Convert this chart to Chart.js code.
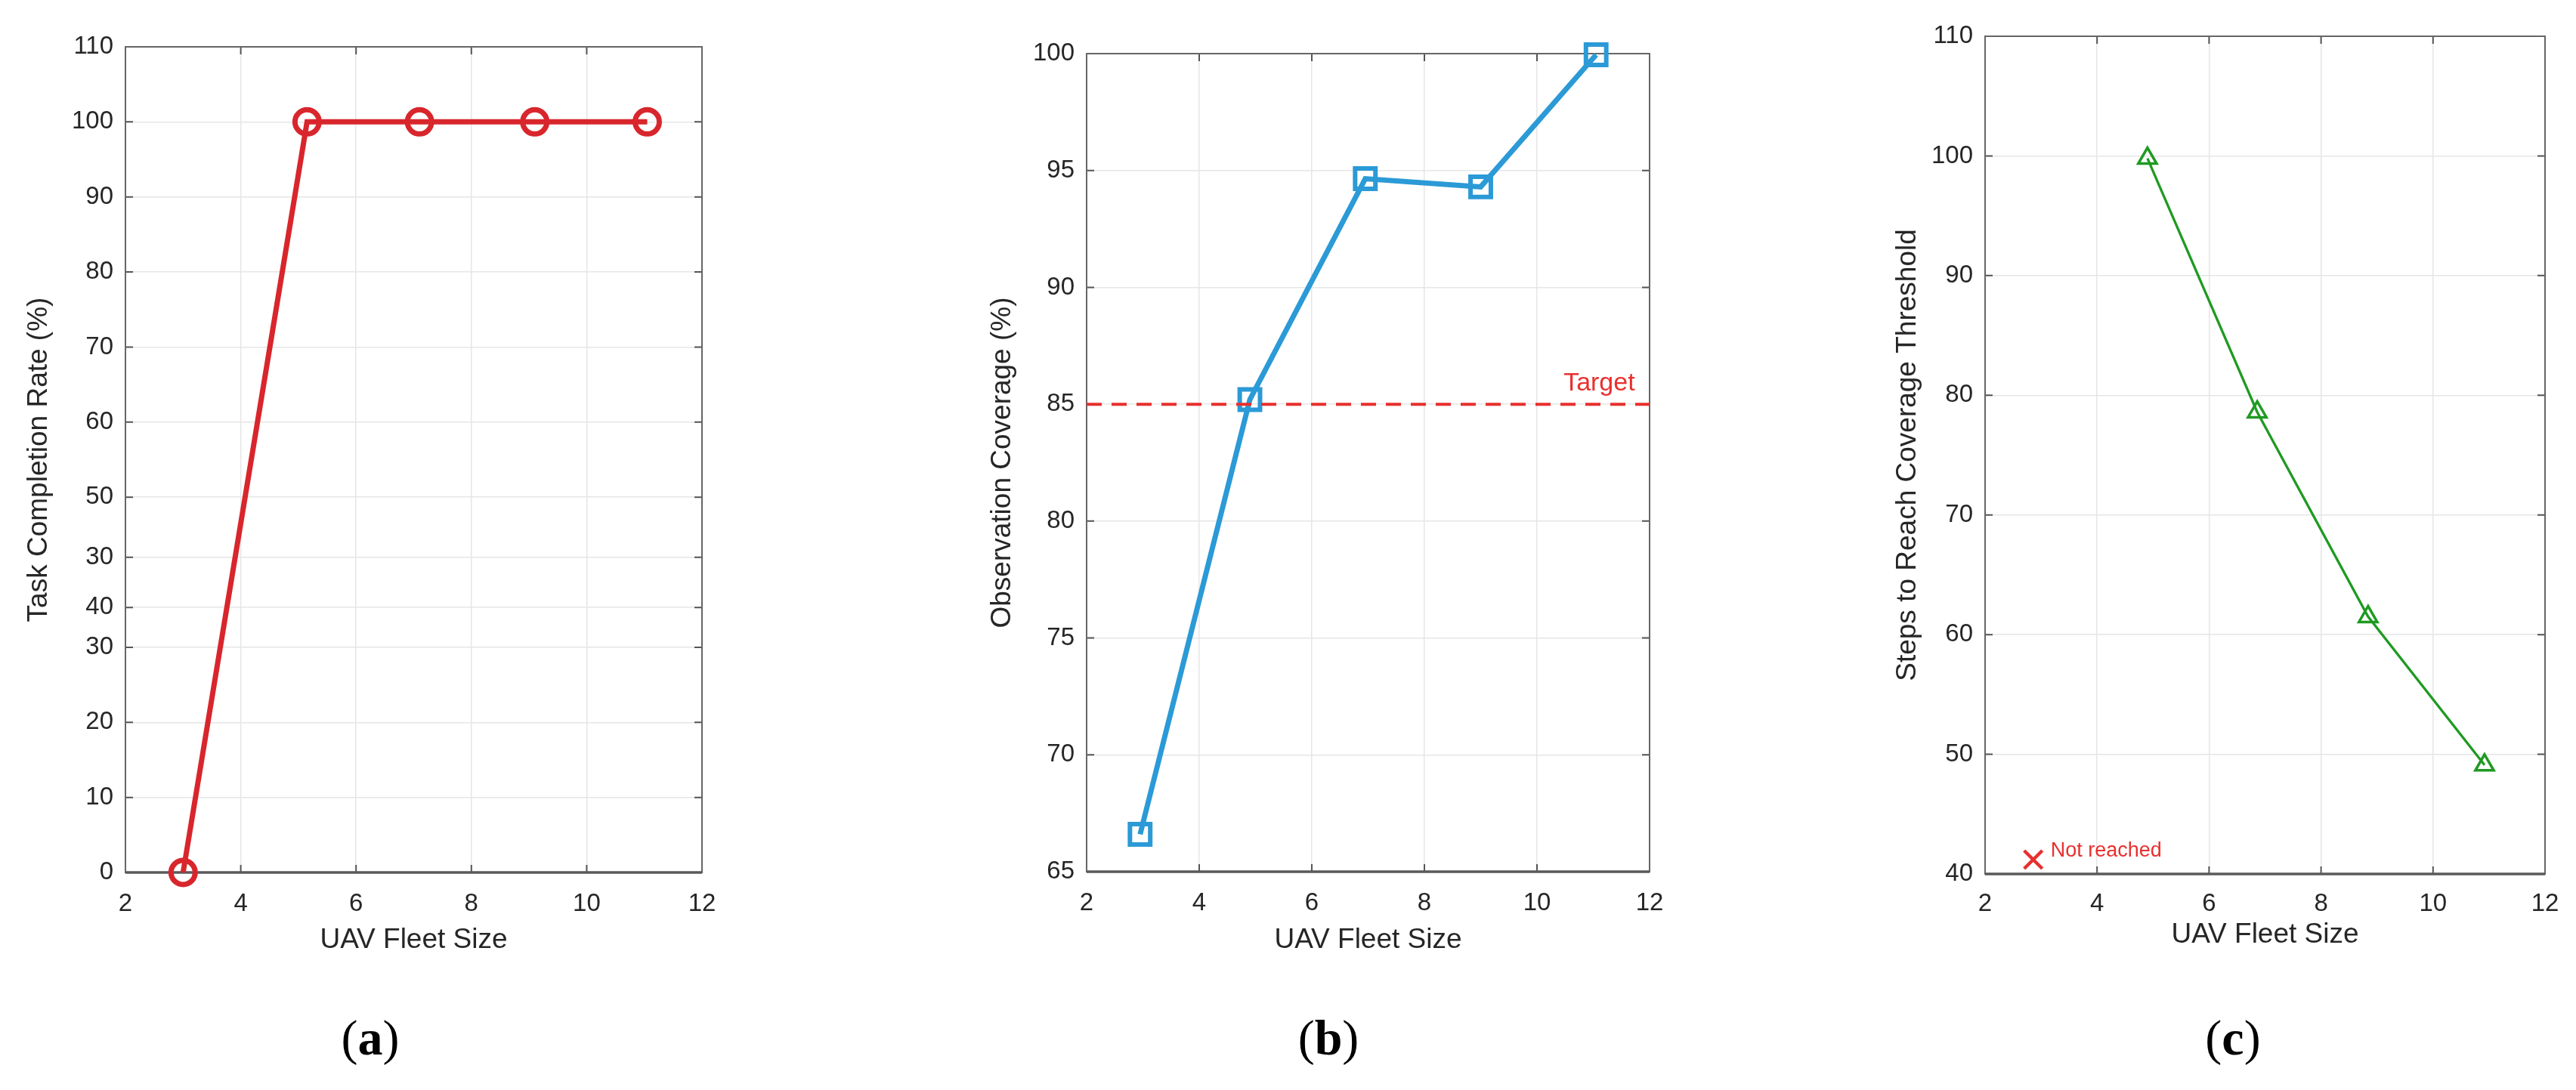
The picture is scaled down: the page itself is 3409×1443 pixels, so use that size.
<!DOCTYPE html>
<html><head><meta charset="utf-8">
<script src="https://cdn.jsdelivr.net/npm/chart.js@4.4.0/dist/chart.umd.min.js"></script>
<style>
html,body{margin:0;padding:0;background:#fff;width:3409px;height:1443px;overflow:hidden;}
canvas{position:absolute;top:0;}
.sub{position:absolute;font-family:'Liberation Serif','Times New Roman',serif;font-size:66px;line-height:1;transform:translate(-50%,-50%);top:1374px;color:#000;}
</style></head><body>
<canvas id="ca" width="1100" height="1300" style="left:0px;width:1100px;height:1300px"></canvas>
<canvas id="cb" width="1150" height="1300" style="left:1150px;width:1150px;height:1300px"></canvas>
<canvas id="cc" width="1109" height="1300" style="left:2300px;width:1109px;height:1300px"></canvas>
<div class="sub" style="left:490px">(<b>a</b>)</div>
<div class="sub" style="left:1758px">(<b>b</b>)</div>
<div class="sub" style="left:2955px">(<b>c</b>)</div>
<script>
// ---- data ----
const xTicks = [2, 4, 6, 8, 10, 12];
const fleetA = [3, 5.15, 7.1, 9.1, 11.05];
const completionRate = [0, 100, 100, 100, 100];
const aTickValues = [0, 10, 20, 30, 35.3, 42, 50, 60, 70, 80, 90, 100, 110];
const aTickLabels = ['0', '10', '20', '30', '40', '30', '50', '60', '70', '80', '90', '100', '110'];

const fleetB = [2.95, 4.9, 6.95, 9.0, 11.05];
const coverage = [66.6, 85.2, 94.65, 94.3, 99.95];
const targetX = [2, 12];
const targetY = [85, 85];
const targetLabel = 'Target';
const targetLabelPos = [11.74, 85.6];
const bTickValues = [65, 70, 75, 80, 85, 90, 95, 100];

const fleetC = [4.9, 6.86, 8.84, 10.92];
const steps = [99.8, 78.6, 61.5, 49.1];
const notReachedX = [2.86];
const notReachedY = [41.2];
const notReachedLabel = 'Not reached';
const notReachedLabelPos = [3.17, 41.45];
const cTickValues = [40, 50, 60, 70, 80, 90, 100, 110];

// ---- styling ----
const SANS = "'Liberation Sans', Arial, Helvetica, sans-serif";
const TXT = '#262626';
const RED = '#d8262c';
const BLUE = '#2b9ad6';
const GREEN = '#1f9a22';
const TRED = '#e8302e';

function pts(xs, ys){ return xs.map((x,i)=>({x:x, y:ys[i]})); }

const framePlugin = {
  id: 'frame',
  beforeDatasetsDraw(chart){
    const {ctx, chartArea:a, scales:{x, y}} = chart;
    ctx.save();
    ctx.strokeStyle = '#555555';
    ctx.lineWidth = 2;
    const tl = 10;
    ctx.beginPath();
    x.ticks.forEach(t=>{
      const px = x.getPixelForValue(t.value);
      ctx.moveTo(px, a.bottom); ctx.lineTo(px, a.bottom - tl);
      ctx.moveTo(px, a.top); ctx.lineTo(px, a.top + tl);
    });
    y.ticks.forEach(t=>{
      const py = y.getPixelForValue(t.value);
      ctx.moveTo(a.left, py); ctx.lineTo(a.left + tl, py);
      ctx.moveTo(a.right, py); ctx.lineTo(a.right - tl, py);
    });
    ctx.stroke();
    ctx.strokeStyle = '#666666';
    ctx.strokeRect(a.left, a.top, a.right - a.left, a.bottom - a.top);
    ctx.lineWidth = 3.5;
    ctx.strokeStyle = '#5a5a5a';
    ctx.beginPath(); ctx.moveTo(a.left, a.bottom); ctx.lineTo(a.right, a.bottom); ctx.stroke();
    ctx.restore();
  }
};

const labelPlugin = {
  id: 'labels',
  afterDatasetsDraw(chart, args, opts){
    if (!opts.items) return;
    const {ctx, scales:{x, y}} = chart;
    ctx.save();
    opts.items.forEach(it=>{
      ctx.font = it.font;
      ctx.fillStyle = it.color;
      ctx.textAlign = it.align;
      ctx.textBaseline = 'alphabetic';
      ctx.fillText(it.text, x.getPixelForValue(it.pos[0]), y.getPixelForValue(it.pos[1]));
    });
    ctx.restore();
  }
};

function makeChart(id, cfg){
  const yTickVals = cfg.yTicks;
  return new Chart(document.getElementById(id), {
    type: 'line',
    data: { datasets: cfg.datasets },
    plugins: [framePlugin, labelPlugin],
    options: {
      responsive: false,
      animation: false,
      devicePixelRatio: 1,
      events: [],
      layout: { padding: cfg.padding },
      plugins: {
        legend: { display: false },
        tooltip: { enabled: false },
        labels: { items: cfg.labels || [] }
      },
      scales: {
        x: {
          type: 'linear', min: 2, max: 12,
          afterBuildTicks: s => { s.ticks = xTicks.map(v=>({value:v})); },
          afterFit: s => { s.height = cfg.xHeight; },
          grid: { color: '#e6e6e6', lineWidth: 1.5, drawTicks: false },
          border: { display: false },
          ticks: { color: TXT, font: { family: SANS, size: 33 }, padding: cfg.xTickPad, autoSkip: false, maxRotation: 0 },
          title: { display: true, text: 'UAV Fleet Size', color: TXT, font: { family: SANS, size: 37 }, padding: { top: 0, bottom: cfg.xTitlePad } }
        },
        y: {
          type: 'linear', min: cfg.yMin, max: cfg.yMax,
          afterBuildTicks: s => { s.ticks = yTickVals.map(v=>({value:v})); },
          afterFit: s => { s.width = cfg.yWidth; },
          grid: { color: '#e6e6e6', lineWidth: 1.5, drawTicks: false },
          border: { display: false },
          ticks: { color: TXT, font: { family: SANS, size: 33 }, padding: 16, autoSkip: false,
                   callback: cfg.yLabels ? ((v, i) => cfg.yLabels[i]) : (v => String(v)) },
          title: { display: true, text: cfg.yTitle, color: TXT, font: { family: SANS, size: 37 }, padding: { top: cfg.yTitlePad, bottom: 0 } }
        }
      }
    }
  });
}

makeChart('ca', {
  padding: { left: 0, right: 171, top: 62, bottom: 0 },
  xHeight: 145, xTickPad: 22, xTitlePad: 33,
  yWidth: 166, yTitlePad: 30,
  yMin: 0, yMax: 110, yTicks: aTickValues, yLabels: aTickLabels,
  yTitle: 'Task Completion Rate (%)',
  datasets: [{
    data: pts(fleetA, completionRate),
    borderColor: RED, borderWidth: 7, tension: 0, clip: false,
    pointStyle: 'circle', pointRadius: 16, pointBorderWidth: 7,
    pointBorderColor: RED, pointBackgroundColor: 'rgba(0,0,0,0)'
  }]
});

makeChart('cb', {
  padding: { left: 0, right: 117, top: 71, bottom: 0 },
  xHeight: 146, xTickPad: 22, xTitlePad: 33,
  yWidth: 288, yTitlePad: 155,
  yMin: 65, yMax: 100, yTicks: bTickValues,
  yTitle: 'Observation Coverage (%)',
  labels: [{ text: targetLabel, pos: targetLabelPos, font: `34px ${SANS}`, color: TRED, align: 'right' }],
  datasets: [{
    data: pts(targetX, targetY),
    borderColor: TRED, borderWidth: 4, borderDash: [20, 13], tension: 0, pointRadius: 0, clip: false
  }, {
    data: pts(fleetB, coverage),
    borderColor: BLUE, borderWidth: 7, tension: 0, clip: false,
    pointStyle: 'rect', pointRadius: 19, pointBorderWidth: 6,
    pointBorderColor: BLUE, pointBackgroundColor: 'rgba(0,0,0,0)'
  }]
});

makeChart('cc', {
  padding: { left: 0, right: 41, top: 48, bottom: 0 },
  xHeight: 143, xTickPad: 20, xTitlePad: 40,
  yWidth: 327, yTitlePad: 203,
  yMin: 40, yMax: 110, yTicks: cTickValues,
  yTitle: 'Steps to Reach Coverage Threshold',
  labels: [{ text: notReachedLabel, pos: notReachedLabelPos, font: `27px ${SANS}`, color: TRED, align: 'left' }],
  datasets: [{
    data: pts(fleetC, steps),
    borderColor: GREEN, borderWidth: 3.3, tension: 0, clip: false,
    pointStyle: 'triangle', pointRadius: 14, pointBorderWidth: 3.5,
    pointBorderColor: GREEN, pointBackgroundColor: 'rgba(0,0,0,0)'
  }, {
    data: pts(notReachedX, notReachedY),
    showLine: false, clip: false,
    pointStyle: 'crossRot', pointRadius: 17, pointBorderWidth: 4.5,
    pointBorderColor: TRED, borderColor: TRED
  }]
});
</script>
</body></html>
